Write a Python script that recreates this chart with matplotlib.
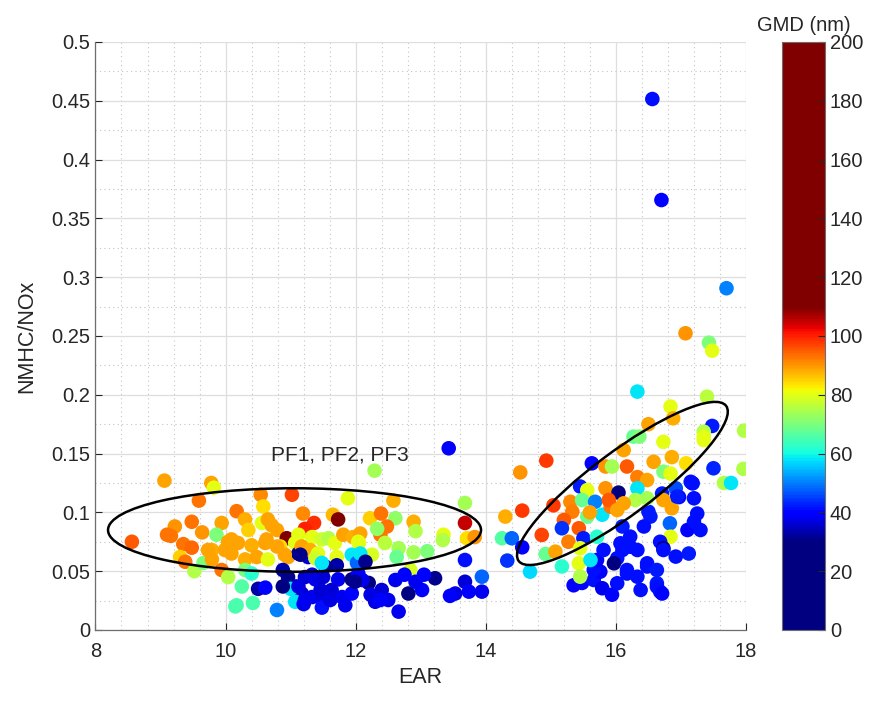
import matplotlib
matplotlib.use("Agg")
import matplotlib.pyplot as plt
import numpy as np
from matplotlib.colors import ListedColormap
from matplotlib.patches import Ellipse
from matplotlib.ticker import MultipleLocator, FormatStrFormatter
from matplotlib.transforms import ScaledTranslation

plt.rcParams["font.family"] = ["Liberation Sans", "DejaVu Sans"]

# left group (PF1-PF3)
ear_left = [
    9.06, 9.78, 9.82, 9.59, 10.17, 9.48, 9.22, 9.10, 9.16, 8.56, 9.64, 9.94, 9.86, 9.35, 9.48,
    9.30, 9.38, 9.52, 9.66, 9.79, 9.94, 10.04, 10.15, 9.99, 10.09, 10.54, 11.02, 10.58, 11.19,
    10.30, 10.35, 10.56, 10.65, 10.79, 11.24, 10.94, 11.07, 10.04, 10.19, 10.40, 10.61, 10.84,
    10.96, 11.12, 11.27, 9.73, 9.79, 10.09, 10.30, 10.48, 10.65, 10.30, 10.40, 10.25, 10.50,
    10.61, 10.17, 10.42, 10.79, 10.88, 10.96, 11.07, 11.17, 11.07, 11.00, 11.20, 11.88, 11.65,
    11.73, 11.36, 11.22, 10.71, 10.63, 10.79, 11.12, 11.33, 11.48, 11.58, 11.68, 11.81, 11.96,
    12.05, 11.17, 11.30, 11.42, 10.91, 11.15, 11.38, 11.71, 11.94, 11.71, 11.53, 11.48, 11.22,
    11.38, 11.50, 11.73, 11.94, 12.04, 12.02, 11.12, 11.33, 11.48, 11.63, 11.79, 11.94, 11.48,
    10.88, 13.43, 12.29, 12.58, 13.68, 12.22, 12.39, 12.61, 12.89, 12.48, 13.68, 12.38, 12.07,
    12.33, 12.92, 13.35, 13.34, 13.71, 13.83, 12.04, 12.45, 12.66, 12.89, 13.10, 12.63, 12.25,
    12.07, 12.15, 12.84, 13.68, 13.22, 13.68, 13.94, 13.94, 13.74, 13.53, 13.45, 12.66, 12.20,
    12.40, 12.61, 12.81, 13.02, 12.92, 12.75, 12.50, 12.30, 12.10, 13.05, 11.61, 11.84, 11.46,
    12.23, 11.99, 11.33, 12.38, 11.22,
]
ratio_left = [
    0.127, 0.125, 0.121, 0.110, 0.101, 0.092, 0.088, 0.081, 0.080, 0.075, 0.083, 0.091, 0.081,
    0.073, 0.070, 0.062, 0.058, 0.050, 0.057, 0.068, 0.051, 0.045, 0.020, 0.068, 0.077, 0.115,
    0.115, 0.105, 0.099, 0.094, 0.085, 0.091, 0.094, 0.085, 0.085, 0.078, 0.074, 0.075, 0.074,
    0.072, 0.074, 0.071, 0.062, 0.065, 0.062, 0.068, 0.060, 0.065, 0.060, 0.062, 0.060, 0.051,
    0.048, 0.037, 0.035, 0.036, 0.021, 0.023, 0.017, 0.051, 0.045, 0.037, 0.031, 0.024, 0.035,
    0.022, 0.112, 0.098, 0.094, 0.091, 0.086, 0.089, 0.077, 0.071, 0.081, 0.079, 0.077, 0.078,
    0.074, 0.081, 0.079, 0.074, 0.071, 0.068, 0.065, 0.064, 0.064, 0.061, 0.062, 0.064, 0.055,
    0.054, 0.057, 0.045, 0.043, 0.045, 0.043, 0.043, 0.048, 0.057, 0.037, 0.028, 0.026, 0.034,
    0.028, 0.031, 0.019, 0.037, 0.1545, 0.1355, 0.110, 0.108, 0.095, 0.099, 0.095, 0.092,
    0.088, 0.091, 0.081, 0.082, 0.086, 0.084, 0.081, 0.0765, 0.078, 0.079, 0.075, 0.074,
    0.0695, 0.066, 0.067, 0.062, 0.064, 0.065, 0.058, 0.051, 0.0595, 0.044, 0.041, 0.0453,
    0.0326, 0.0326, 0.031, 0.029, 0.0156, 0.040, 0.034, 0.0425, 0.031, 0.034, 0.041, 0.047,
    0.0255, 0.024, 0.0425, 0.047, 0.0255, 0.021, 0.034, 0.030, 0.041, 0.047, 0.0255, 0.0255,
]
gmd_left = [
    89, 89, 80, 93, 93, 93, 90, 93, 93, 95, 90, 89, 70, 93, 94, 85, 93, 75, 70, 88, 93, 75, 65,
    89, 89, 91, 97, 84, 91, 88, 85, 80, 89, 89, 99, 115, 80, 89, 89, 88, 89, 84, 89, 31, 36, 89,
    89, 89, 88, 89, 80, 70, 62, 66, 33, 39, 65, 65, 50, 33, 31, 33, 35, 58, 58, 38, 80, 87, 115,
    99, 100, 89, 89, 89, 80, 80, 78, 75, 80, 89, 88, 80, 89, 88, 80, 89, 31, 78, 80, 58, 33, 31,
    58, 36, 38, 36, 38, 30, 39, 48, 37, 38, 37, 36, 38, 39, 41, 30, 39, 74, 88, 74, 85, 93, 72,
    88, 93, 105, 93, 89, 72, 75, 80, 75, 84, 90, 80, 76, 74, 74, 70, 68, 79, 58, 31, 79, 41, 31,
    36, 48, 38, 39, 37, 39, 38, 30, 36, 38, 30, 40, 38, 39, 38, 37, 38, 39, 37, 38, 36, 37, 31,
    37, 39, 38,
]

# right group
ear_right = [
    14.93, 14.53, 15.63, 15.84, 15.94, 16.12, 16.17, 15.45, 15.56, 15.84, 16.04, 15.30, 15.48,
    15.68, 15.04, 15.33, 15.56, 15.79, 15.92, 14.56, 14.30, 15.20, 15.17, 15.43, 15.50, 15.71,
    14.86, 15.27, 14.25, 14.40, 14.56, 14.92, 15.07, 14.33, 14.68, 15.17, 15.43, 15.35, 15.48,
    15.66, 15.79, 15.94, 15.76, 15.66, 16.02, 16.10, 16.10, 16.73, 17.35, 16.86, 17.08, 16.58,
    16.73, 16.33, 16.48, 17.50, 17.66, 17.77, 17.96, 16.33, 16.71, 16.92, 17.17, 16.97, 17.20,
    16.86, 16.30, 17.25, 16.50, 16.83, 17.10, 17.30, 16.84, 16.68, 16.73, 16.92, 17.12, 16.48,
    16.38, 16.63, 16.68, 16.17, 16.22, 17.07, 17.43, 17.48, 16.33, 17.40, 16.84, 16.88, 16.50,
    17.48, 17.35, 17.35, 17.97, 16.27, 16.36, 16.56, 16.70, 17.70, 16.63, 16.71, 15.66, 15.71,
    15.81, 15.97, 16.07, 16.22, 16.33, 16.48, 16.63, 16.73, 16.17, 16.33, 16.02, 16.53, 16.43,
    16.94, 17.18, 16.84, 16.73, 16.48, 15.89, 16.12, 16.02, 15.60, 15.45, 15.61, 15.45, 17.15,
    17.20,
]
ratio_right = [
    0.144, 0.134, 0.1417, 0.139, 0.139, 0.153, 0.139, 0.122, 0.119, 0.1205, 0.1168, 0.109,
    0.1105, 0.109, 0.106, 0.1006, 0.0964, 0.098, 0.1049, 0.1015, 0.0964, 0.0935, 0.0865,
    0.0865, 0.078, 0.0793, 0.0808, 0.075, 0.078, 0.078, 0.0703, 0.0646, 0.0666, 0.059, 0.0496,
    0.054, 0.0567, 0.038, 0.040, 0.0425, 0.0355, 0.030, 0.0496, 0.058, 0.061, 0.068, 0.088,
    0.160, 0.1615, 0.147, 0.1417, 0.143, 0.1346, 0.130, 0.1275, 0.1375, 0.125, 0.125, 0.137,
    0.1205, 0.116, 0.1205, 0.125, 0.113, 0.112, 0.1035, 0.1105, 0.099, 0.1006, 0.0907, 0.085,
    0.085, 0.0793, 0.075, 0.0695, 0.0624, 0.065, 0.054, 0.034, 0.0397, 0.0326, 0.048, 0.0708,
    0.2523, 0.2443, 0.2375, 0.2027, 0.1984, 0.190, 0.180, 0.175, 0.1735, 0.1686, 0.1644,
    0.1695, 0.1644, 0.1644, 0.4515, 0.3656, 0.2906, 0.0368, 0.031, 0.051, 0.0595, 0.068,
    0.0567, 0.0737, 0.0794, 0.068, 0.0567, 0.051, 0.068, 0.051, 0.0453, 0.0397, 0.0964, 0.088,
    0.1134, 0.1247, 0.133, 0.1105, 0.112, 0.1105, 0.1077, 0.102, 0.100, 0.0695, 0.0595,
    0.0453, 0.126, 0.092,
]
gmd_right = [
    98, 90, 40, 90, 74, 89, 95, 42, 80, 90, 28, 91, 68, 50, 98, 92, 68, 58, 93, 98, 88, 95, 44,
    95, 42, 62, 97, 92, 66, 48, 39, 68, 89, 44, 57, 62, 80, 39, 40, 41, 38, 40, 40, 41, 41, 41,
    42, 80, 80, 88, 84, 89, 70, 92, 89, 43, 75, 58, 75, 58, 42, 46, 40, 40, 41, 89, 75, 41, 42,
    48, 40, 41, 80, 41, 30, 41, 42, 41, 41, 42, 41, 41, 41, 90, 70, 80, 58, 76, 80, 88, 89, 42,
    75, 80, 75, 68, 70, 41, 40, 50, 41, 40, 41, 40, 41, 30, 41, 41, 41, 41, 42, 41, 41, 41, 41,
    42, 41, 42, 41, 80, 89, 74, 95, 89, 89, 89, 80, 58, 75, 41, 41,
]

ear = ear_left + ear_right
ratio = ratio_left + ratio_right
gmd = gmd_left + gmd_right

# jet stretched over 30-110 nm, held at navy below and maroon above
levels = np.linspace(0, 200, 401)
cmap = ListedColormap(plt.get_cmap("jet")(np.clip((levels - 30) / 80, 0, 1)))

fig = plt.figure(figsize=(8.71, 7.02), dpi=100)
ax = fig.add_axes([0.1096, 0.1026, 0.7469, 0.8376])
cax = fig.add_axes([0.8978, 0.1026, 0.0494, 0.8376])

sc = ax.scatter(ear, ratio, c=gmd, cmap=cmap, vmin=0, vmax=200, s=110, linewidths=0, zorder=3)

ax.set_xlim(8, 18)
ax.set_ylim(0, 0.5)
ax.xaxis.set_major_locator(MultipleLocator(2))
ax.xaxis.set_minor_locator(MultipleLocator(0.4))
ax.yaxis.set_major_locator(MultipleLocator(0.05))
ax.yaxis.set_minor_locator(MultipleLocator(0.025))
ax.yaxis.set_major_formatter(FormatStrFormatter("%g"))
ax.grid(True, which="major", color="#dedede", linewidth=0.9, zorder=0)
ax.grid(True, which="minor", color="#c4c4c4", linewidth=0.8, linestyle=(0, (1, 3)), zorder=0)
ax.set_axisbelow(True)
ax.tick_params(which="both", direction="in", colors="#262626", labelsize=14.5)
ax.tick_params(which="major", length=5, width=0.8)
ax.tick_params(which="minor", length=0)
ax.tick_params(axis="x", pad=9)
for side in ("top", "right"):
    ax.spines[side].set_visible(False)
for side in ("left", "bottom"):
    ax.spines[side].set_color("#6e6e6e")
    ax.spines[side].set_linewidth(0.9)
ax.set_xlabel("EAR", fontsize=15.5, color="#262626", labelpad=4)
ax.set_ylabel("NMHC/NOx", fontsize=15.5, color="#262626", labelpad=10)

# circled groups, sized in inches so the tilt is in screen space
shapes = [((11.06, 0.085), 3.73, 0.835, 0.0), ((16.10, 0.1246), 2.59, 0.63, 36.8)]
for (cx, cy), w, h, ang in shapes:
    trans = fig.dpi_scale_trans + ScaledTranslation(cx, cy, ax.transData)
    ax.add_patch(Ellipse((0, 0), w, h, angle=ang, transform=trans, fill=False,
                         edgecolor="black", linewidth=1.8, zorder=4))
ax.text(11.75, 0.1488, "PF1, PF2, PF3", fontsize=15, ha="center", va="center",
        color="#262626", zorder=5)

cb = fig.colorbar(sc, cax=cax, ticks=np.arange(0, 201, 20))
cb.outline.set_edgecolor("#6e6e6e")
cb.outline.set_linewidth(0.8)
cax.tick_params(direction="in", length=5, width=0.8, colors="#262626", labelsize=14.5)
cax.set_title("GMD (nm)", fontsize=14.5, color="#262626", pad=8)

fig.savefig("out.png", dpi=100)
